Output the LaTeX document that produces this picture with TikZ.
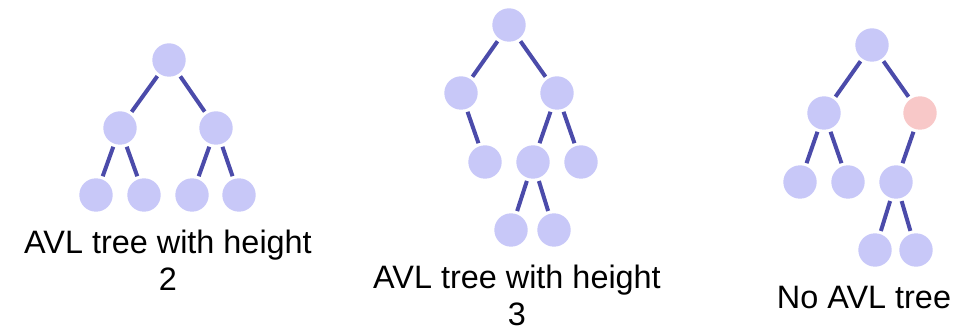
\documentclass[tikz,border=0pt]{standalone}
\usepackage{fontspec}
\setmainfont{Liberation Sans}
\usepackage{tikz}
\usetikzlibrary{positioning}
\usepackage{xcolor}

\definecolor{nodeblue}{HTML}{C8C8F8}
\definecolor{nodepink}{HTML}{F8C8C8}
\definecolor{edgeblue}{HTML}{4B4BAA}

\begin{document}
\begin{tikzpicture}[x=0.5pt, y=-0.5pt,
    vertex/.style={circle, fill=nodeblue, minimum size=16.7pt, inner sep=0pt, outer sep=1.6pt},
    badvertex/.style={vertex, fill=nodepink},
    treeedge/.style={draw=edgeblue, line width=2pt},
    caption/.style={align=center, anchor=base, inner sep=0pt, font=\fontsize{16.2}{18.5}\selectfont}]
    % 0. Fix the frame of the picture
    \useasboundingbox (0,0) rectangle (973,331);

    % 1. First tree, height 2
    \node[vertex] (a0) at (169,60) {};
    \node[vertex] (a1) at (120,128) {};
    \node[vertex] (a2) at (216,128) {};
    \node[vertex] (a3) at (96,195) {};
    \node[vertex] (a4) at (144,195) {};
    \node[vertex] (a5) at (192,195) {};
    \node[vertex] (a6) at (239,195) {};
    \foreach \p/\c in {a0/a1, a0/a2, a1/a3, a1/a4, a2/a5, a2/a6} {
        \draw[treeedge] (\p) -- (\c);
    }
    \node[caption] (capa) at (168,290) {AVL tree with height\\2};

    % 2. Second tree, height 3
    \node[vertex] (b0) at (509,25) {};
    \node[vertex] (b1) at (461,93) {};
    \node[vertex] (b2) at (557,93) {};
    \node[vertex] (b3) at (485,162) {};
    \node[vertex] (b4) at (533,162) {};
    \node[vertex] (b5) at (581,162) {};
    \node[vertex] (b6) at (511,230) {};
    \node[vertex] (b7) at (554,230) {};
    \foreach \p/\c in {b0/b1, b0/b2, b1/b3, b2/b4, b2/b5, b4/b6, b4/b7} {
        \draw[treeedge] (\p) -- (\c);
    }
    \node[caption] (capb) at (517,325) {AVL tree with height\\3};

    % 3. Third tree, not balanced
    \node[vertex] (c0) at (872,45) {};
    \node[vertex] (c1) at (824,113) {};
    \node[badvertex] (c2) at (920,113) {};
    \node[vertex] (c3) at (800,182) {};
    \node[vertex] (c4) at (848,182) {};
    \node[vertex] (c5) at (896,182) {};
    \node[vertex] (c6) at (875,250) {};
    \node[vertex] (c7) at (916,250) {};
    \foreach \p/\c in {c0/c1, c0/c2, c1/c3, c1/c4, c2/c5, c5/c6, c5/c7} {
        \draw[treeedge] (\p) -- (\c);
    }
    \node[caption] (capc) at (864,308) {No AVL tree};

\end{tikzpicture}
\end{document}
